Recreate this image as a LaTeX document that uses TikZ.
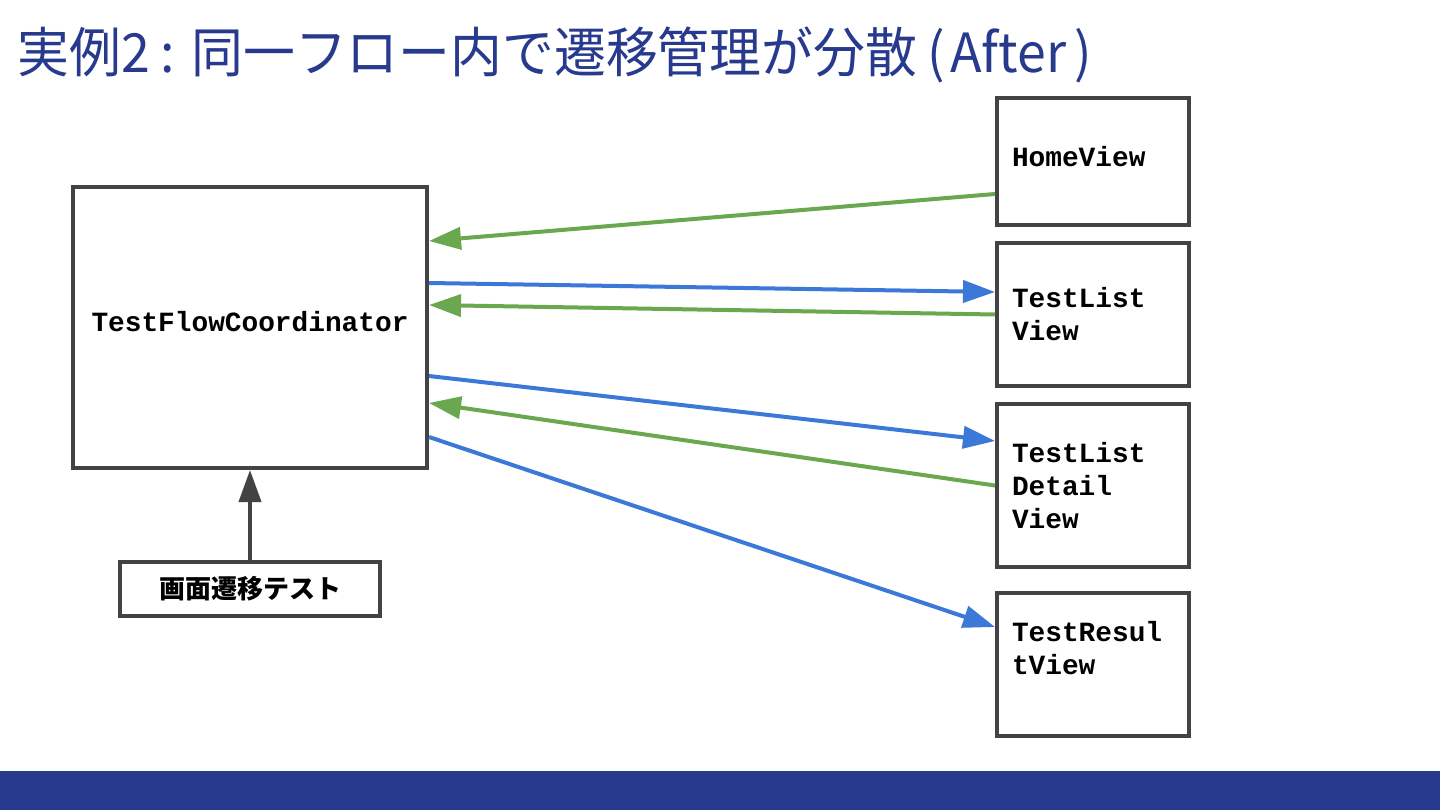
\documentclass[tikz,border=0pt]{standalone}
\usepackage{fontspec}
\usepackage{xcolor}
\usetikzlibrary{arrows.meta,positioning}
\setmonofont{Liberation Mono}
\newfontfamily\jpfont{Noto Sans CJK JP}
\newfontfamily\jptitle[FakeStretch=0.96]{Noto Sans CJK JP}
\definecolor{exIndigo}{HTML}{283A8E}
\definecolor{exGray}{HTML}{434343}
\definecolor{exGreen}{HTML}{6AA84F}
\definecolor{exBlue}{HTML}{3C78D8}

\begin{document}
\begin{tikzpicture}[
  x=1pt, y=-1pt,
  >={Triangle[length=32pt,width=22pt]},
  flowbox/.style={
    draw=exGray,
    line width=4pt,
    fill=white,
    inner sep=0pt,
    align=center
  },
  viewbox/.style={
    draw=exGray,
    line width=4pt,
    inner xsep=15pt,
    inner ysep=0pt,
    text width=162pt,
    align=left,
    font=\fontsize{27.8}{33}\selectfont\ttfamily\bfseries
  },
  sendline/.style={->,draw=exBlue,line width=4pt},
  backline/.style={->,draw=exGreen,line width=4pt}
]
  \fill[white] (0,0) rectangle (1440,810);
  \useasboundingbox (0,0) rectangle (1440,810);

  \node[anchor=base west,text=exIndigo,
    font=\jptitle\fontsize{54}{60}\selectfont] (title) at (14,73)
    {実例2\hspace{0.2em}:\hspace{0.3em}同一フロー内で遷移管理が分散\hspace{0.2em}(\hspace{0.1em}After\hspace{0.15em})};

  \node[flowbox,minimum width=354pt,minimum height=281pt,text depth=12pt,
    font=\fontsize{27.8}{33}\selectfont\ttfamily\bfseries] (coord)
    at (250,327.5) {TestFlowCoordinator};
  \node[flowbox,minimum width=260pt,minimum height=54pt,
    font=\jpfont\bfseries\fontsize{26}{30}\selectfont] (uitest)
    at (250,589) {画面遷移テスト};

  \node[viewbox,minimum height=127pt,text depth=10pt] (home) at (1093,161.5)
    {HomeView};
  \node[viewbox,minimum height=143pt] (list) at (1093,314.5)
    {TestList\\View};
  \node[viewbox,minimum height=163pt] (detail) at (1093,485.5)
    {TestList\\Detail\\View};
  \node[viewbox,minimum height=143pt] (result) at (1093,664.5)
    {TestResul\\tView\\\mbox{}};

  \draw[->,draw=exGray,line width=4pt] (uitest.north)--(coord.south);

  \draw[backline] ([yshift=-32.5pt]home.west)--([yshift=86.5pt]coord.east);
  \draw[sendline] ([yshift=44.5pt]coord.east)--([yshift=22.5pt]list.west);
  \draw[backline] (list.west)--([yshift=22.5pt]coord.east);
  \draw[sendline] ([yshift=-48.5pt]coord.east)--([yshift=44.5pt]detail.west);
  \draw[backline] (detail.west)--([yshift=-75.5pt]coord.east);
  \draw[sendline] ([yshift=-109.5pt]coord.east)--([yshift=37.5pt]result.west);

  \fill[exIndigo] (0,771) rectangle (1440,810);
\end{tikzpicture}
\end{document}
